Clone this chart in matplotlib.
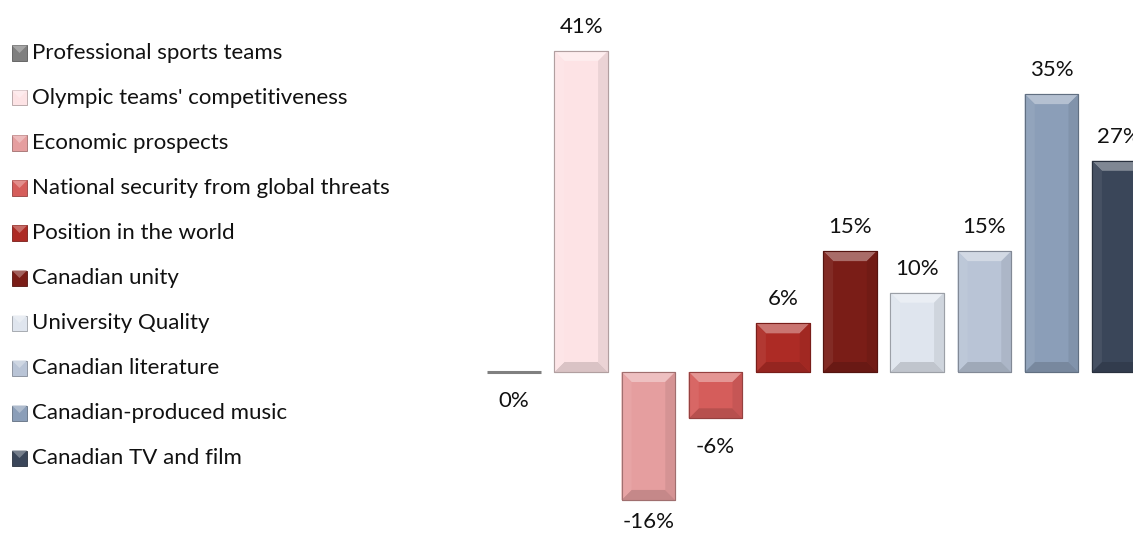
import matplotlib
matplotlib.use("Agg")
import matplotlib.pyplot as plt
from matplotlib.patches import Polygon, Rectangle
import matplotlib.colors as mcolors
import numpy as np

plt.rcParams['font.family'] = ['Lato', 'DejaVu Sans']

categories = ["Professional sports teams", "Olympic teams' competitiveness", "Economic prospects",
              "National security from global threats", "Position in the world", "Canadian unity",
              "University Quality", "Canadian literature", "Canadian-produced music", "Canadian TV and film"]
values = [0.0, 40.9, -16.3, -5.9, 6.2, 15.4, 10.1, 15.4, 35.4, 26.9]
labels = ["0%", "41%", "-16%", "-6%", "6%", "15%", "10%", "15%", "35%", "27%"]
colors = ["#7f7f7f", "#fde3e5", "#e59e9f", "#d55d5b", "#ad2b25", "#7a1d17",
          "#dfe5ee", "#b9c4d6", "#8b9eb8", "#3a4659"]

W, H = 1133, 536
DPI = 100
fig = plt.figure(figsize=(W / DPI, H / DPI), dpi=DPI)

# axes geometry in pixels
ax_left, ax_right, ax_top, ax_bot = 480, 1133, 15, 530
zero_px = 372
px_per_unit_y = 7.85
spacing_px = 67.2
center0_px = 514

ax = fig.add_axes([ax_left / W, 1 - ax_bot / H, (ax_right - ax_left) / W, (ax_bot - ax_top) / H])
ax.set_xlim((ax_left - center0_px) / spacing_px, (ax_right - center0_px) / spacing_px)
ax.set_ylim(-(ax_bot - zero_px) / px_per_unit_y, (zero_px - ax_top) / px_per_unit_y)
ax.axis('off')

x = np.arange(len(values))
width = 0.80


def mix(c, t):
    r = np.array(mcolors.to_rgb(c))
    if t >= 0:
        return tuple(r + (1 - r) * t)
    return tuple(r * (1 + t))


bars = ax.bar(x, values, width=width, color=colors,
              edgecolor=[mix(c, -0.25) for c in colors], linewidth=0.8, zorder=2)
# zero-height bar shown as a line
bars[0].set_linewidth(2.2)
bars[0].set_edgecolor("#808080")

bx = 10 / spacing_px
by = 10 / px_per_unit_y
for b, c in zip(bars, colors):
    x0, x1 = b.get_x(), b.get_x() + b.get_width()
    y0, y1 = b.get_y(), b.get_y() + b.get_height()
    if y1 < y0:
        y0, y1 = y1, y0
    if y1 - y0 <= 0:
        continue
    byy = min(by, (y1 - y0) / 2)
    bxx = min(bx, (x1 - x0) / 2)
    ix0, ix1, iy0, iy1 = x0 + bxx, x1 - bxx, y0 + byy, y1 - byy
    polys = [
        ([(x0, y1), (x1, y1), (ix1, iy1), (ix0, iy1)], mix(c, 0.35)),
        ([(x0, y0), (x1, y0), (ix1, iy0), (ix0, iy0)], mix(c, -0.14)),
        ([(x0, y0), (x0, y1), (ix0, iy1), (ix0, iy0)], mix(c, 0.06)),
        ([(x1, y0), (x1, y1), (ix1, iy1), (ix1, iy0)], mix(c, -0.07)),
    ]
    for pts, col in polys:
        ax.add_patch(Polygon(pts, closed=True, facecolor=col, edgecolor='none', zorder=3))
    ax.add_patch(Rectangle((x0, y0), x1 - x0, y1 - y0, facecolor='none',
                           edgecolor=mix(c, -0.3), linewidth=0.8, zorder=4))

# data labels (outside end; kept inside the chart area at the bottom)
label_floor = -(522 - zero_px) / px_per_unit_y
for xi, v, lab in zip(x, values, labels):
    if v > 0:
        ly = v + 24 / px_per_unit_y
    else:
        ly = max(v - 29 / px_per_unit_y, label_floor)
    ax.text(xi, ly, lab, ha='center', va='center', fontsize=16, color='#111111', clip_on=False)

# legend
row0, row_sp = 53, 45.0
for i, (cat, c) in enumerate(zip(categories, colors)):
    yc = row0 + i * row_sp
    s = 15
    rx, ry = 12, yc - s / 2
    fig.patches.append(Rectangle((rx / W, 1 - (ry + s) / H), s / W, s / H,
                                 transform=fig.transFigure, facecolor=c,
                                 edgecolor=mix(c, -0.3), linewidth=0.6))
    fig.patches.append(Polygon([(rx / W, 1 - ry / H), ((rx + s) / W, 1 - ry / H),
                                ((rx + s / 2) / W, 1 - (ry + s / 2) / H)],
                               closed=True, transform=fig.transFigure,
                               facecolor=mix(c, 0.3), edgecolor='none'))
    fig.text(32 / W, 1 - yc / H, cat, ha='left', va='center', fontsize=16, color='#111111')

fig.savefig("out.png", dpi=DPI)
